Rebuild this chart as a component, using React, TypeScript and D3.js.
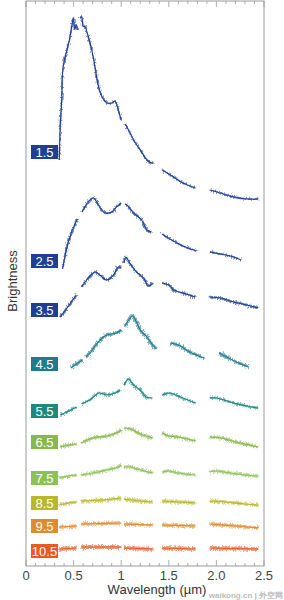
import React, { useEffect, useRef } from "react";
import * as d3 from "d3";

type Pt = [number, number];

// spectra: segments of [wavelength (µm), brightness]
const spec15: Pt[][] = [
  [[0.35, 406], [0.36, 440], [0.375, 466], [0.39, 499], [0.43, 516], [0.46, 528], [0.49, 545], [0.5, 548], [0.51, 537], [0.53, 541], [0.54, 536]],
  [[0.57, 548], [0.585, 549], [0.6, 540], [0.62, 539], [0.655, 529], [0.69, 516], [0.725, 499], [0.76, 480], [0.795, 470], [0.85, 463], [0.9, 463], [0.935, 465], [0.97, 456], [1.0, 446]],
  [[1.04, 442], [1.06, 439], [1.13, 426], [1.2, 416], [1.27, 406], [1.32, 403], [1.34, 403]],
  [[1.43, 396], [1.55, 389], [1.65, 383], [1.78, 378]],
  [[1.93, 376], [2.04, 373], [2.18, 369], [2.32, 367], [2.44, 367]],
];
const spec25: Pt[][] = [
  [[0.385, 297], [0.43, 319], [0.48, 334], [0.54, 347]],
  [[0.59, 354], [0.655, 364], [0.71, 368], [0.76, 361], [0.83, 353], [0.9, 354], [0.95, 359], [1.0, 363]],
  [[1.04, 362], [1.06, 361], [1.13, 353], [1.215, 346], [1.27, 336], [1.32, 334]],
  [[1.43, 332], [1.53, 326], [1.65, 320], [1.79, 315]],
  [[1.93, 314], [2.04, 312], [2.18, 309], [2.26, 306]],
];
const spec35: Pt[][] = [
  [[0.36, 249], [0.43, 258], [0.53, 271]],
  [[0.585, 279], [0.655, 288], [0.725, 294], [0.775, 291], [0.85, 286], [0.92, 291], [0.97, 299], [1.0, 298]],
  [[1.03, 303], [1.05, 309], [1.09, 303], [1.16, 294], [1.235, 288], [1.285, 280], [1.33, 283]],
  [[1.43, 283], [1.5, 281], [1.55, 276], [1.65, 273], [1.78, 269]],
  [[1.93, 269], [2.04, 268], [2.18, 264], [2.32, 261], [2.44, 258]],
];
const spec45: Pt[][] = [
  [[0.47, 198], [0.53, 202], [0.59, 206]],
  [[0.63, 209], [0.68, 214], [0.75, 223], [0.8, 228], [0.85, 231], [0.95, 233], [1.0, 236]],
  [[1.04, 240], [1.08, 246], [1.12, 250], [1.16, 244], [1.2, 236], [1.27, 229], [1.33, 221], [1.37, 217]],
  [[1.52, 223], [1.6, 221], [1.72, 214], [1.87, 208]],
  [[2.03, 213], [2.11, 209], [2.21, 204], [2.34, 199]],
];
const spec55: Pt[][] = [
  [[0.36, 151], [0.45, 155], [0.53, 159]],
  [[0.585, 162], [0.67, 166], [0.77, 173], [0.85, 171], [0.935, 173], [0.99, 176]],
  [[1.03, 181], [1.075, 187], [1.13, 181], [1.2, 176], [1.26, 169], [1.32, 168]],
  [[1.43, 171], [1.51, 173], [1.62, 169], [1.78, 163]],
  [[1.93, 168], [2.0, 168], [2.18, 163], [2.32, 160], [2.44, 158]],
];
const spec65: Pt[][] = [
  [[0.36, 119], [0.45, 121], [0.53, 122]],
  [[0.58, 123], [0.7, 128], [0.85, 130], [0.97, 134], [1.0, 136]],
  [[1.03, 138], [1.1, 137], [1.2, 132], [1.33, 128]],
  [[1.43, 133], [1.5, 130], [1.6, 129], [1.78, 125]],
  [[1.93, 129], [2.05, 128], [2.2, 124], [2.35, 121], [2.44, 119]],
];
const spec75: Pt[][] = [
  [[0.35, 88], [0.45, 90], [0.53, 91]],
  [[0.58, 91], [0.7, 93], [0.85, 96], [0.97, 99], [1.0, 101]],
  [[1.03, 99], [1.1, 99], [1.2, 96], [1.33, 93]],
  [[1.43, 94], [1.5, 95], [1.6, 93], [1.78, 91]],
  [[1.93, 94], [2.0, 95], [2.15, 93], [2.3, 91], [2.44, 90]],
];
const spec85: Pt[][] = [
  [[0.35, 61], [0.45, 63], [0.53, 64]],
  [[0.58, 65], [0.8, 66], [1.0, 68]],
  [[1.03, 67], [1.2, 65], [1.33, 64]],
  [[1.43, 65], [1.6, 64], [1.78, 63]],
  [[1.93, 65], [2.1, 64], [2.3, 62], [2.44, 61]],
];
const spec95: Pt[][] = [
  [[0.35, 39], [0.53, 40]],
  [[0.58, 42], [1.0, 43]],
  [[1.03, 42], [1.33, 41]],
  [[1.43, 41], [1.78, 40]],
  [[1.93, 42], [2.2, 40], [2.44, 38]],
];
const spec105: Pt[][] = [
  [[0.35, 17], [0.53, 18]],
  [[0.58, 19], [1.0, 19]],
  [[1.03, 18], [1.33, 17]],
  [[1.43, 18], [1.78, 17]],
  [[1.93, 18], [2.44, 17]],
];

const spectra = [spec15, spec25, spec35, spec45, spec55, spec65, spec75, spec85, spec95, spec105];
const labels = ["1.5", "2.5", "3.5", "4.5", "5.5", "6.5", "7.5", "8.5", "9.5", "10.5"];
const labelY = [414, 305, 256, 202, 155, 124, 88, 63, 40, 15];
const colors = ["#1d3f94", "#1d3f94", "#1d3f94", "#1f7c8c", "#1e8a7e", "#86b94a", "#8dc157", "#b8b82a", "#e08b2e", "#e85a25"];
const bandW = [1.8, 2.0, 2.4, 3.4, 2.4, 3.0, 3.2, 3.6, 3.6, 3.8];
const xTickLabels = ["0", "0.5", "1", "1.5", "2.0", "2.5"];

const App = () => {
  const svgRef = useRef<SVGSVGElement>(null);

  useEffect(() => {
    const W = 284, H = 600;
    const left = 26, right = 264, top = 1, bottom = 566;
    const svg = d3.select(svgRef.current).attr("width", W).attr("height", H);
    svg.selectAll("*").remove();

    const x = d3.scaleLinear().domain([0, 2.5]).range([left, right]);
    const y = d3.scaleLinear().domain([0, 565]).range([bottom, top]);

    // jitter filter for the noisy spectra (user space so flat segments still render)
    const defs = svg.append("defs");
    const f = defs.append("filter").attr("id", "noise").attr("filterUnits", "userSpaceOnUse")
      .attr("x", 0).attr("y", 0).attr("width", W).attr("height", H);
    f.append("feTurbulence").attr("type", "fractalNoise").attr("baseFrequency", "1.6 0.4").attr("numOctaves", 2).attr("seed", 3).attr("result", "t");
    f.append("feDisplacementMap").attr("in", "SourceGraphic").attr("in2", "t").attr("scale", 5).attr("xChannelSelector", "R").attr("yChannelSelector", "G");

    // frame
    svg.append("rect").attr("x", left).attr("y", top).attr("width", right - left).attr("height", bottom - top)
      .attr("fill", "none").attr("stroke", "#9a9a9a").attr("stroke-width", 1);

    const minor = d3.range(0, 2.51, 0.1);
    const major = (v: number) => Math.abs(v * 2 - Math.round(v * 2)) < 1e-6;
    svg.append("g").selectAll("line.b").data(minor).enter().append("line")
      .attr("x1", (d) => x(d)).attr("x2", (d) => x(d))
      .attr("y1", bottom).attr("y2", (d) => bottom - (major(d) ? 6 : 3))
      .attr("stroke", "#9a9a9a").attr("stroke-width", 0.8);
    svg.append("g").selectAll("line.t").data(minor).enter().append("line")
      .attr("x1", (d) => x(d)).attr("x2", (d) => x(d))
      .attr("y1", top).attr("y2", (d) => top + (major(d) ? 6 : 3))
      .attr("stroke", "#9a9a9a").attr("stroke-width", 0.8);

    svg.append("g").selectAll("text").data(xTickLabels).enter().append("text")
      .attr("x", (d, i) => x(i * 0.5)).attr("y", 580).attr("text-anchor", "middle")
      .attr("font-family", "Liberation Sans, Arial, sans-serif").attr("font-size", 13).attr("fill", "#444")
      .text((d) => d);

    svg.append("text").attr("x", 157).attr("y", 594).attr("text-anchor", "middle")
      .attr("font-family", "Liberation Sans, Arial, sans-serif").attr("font-size", 13).attr("fill", "#333")
      .text("Wavelength (µm)");
    svg.append("text").attr("transform", "translate(17,281) rotate(-90)").attr("text-anchor", "middle")
      .attr("font-family", "Liberation Sans, Arial, sans-serif").attr("font-size", 13).attr("fill", "#333")
      .text("Brightness");

    const line = d3.line<Pt>().x((d) => x(d[0])).y((d) => y(d[1])).curve(d3.curveCatmullRom);

    spectra.forEach((segs, i) => {
      const g = svg.append("g");
      segs.forEach((seg) => {
        g.append("path").attr("d", line(seg)).attr("fill", "none").attr("stroke", colors[i])
          .attr("stroke-width", bandW[i]).attr("stroke-opacity", 0.6).attr("filter", "url(#noise)");
        g.append("path").attr("d", line(seg)).attr("fill", "none").attr("stroke", colors[i])
          .attr("stroke-width", 1.1);
      });
      const cy = y(labelY[i]);
      svg.append("rect").attr("x", 31).attr("y", cy - 7).attr("width", 27).attr("height", 14).attr("fill", colors[i]);
      svg.append("text").attr("x", 44.5).attr("y", cy + 5).attr("text-anchor", "middle")
        .attr("font-family", "Liberation Sans, Arial, sans-serif").attr("font-size", 13).attr("fill", "#fff")
        .text(labels[i]);
    });

    // watermark, kept clear of the tick labels
    svg.append("text").attr("x", 283).attr("y", 598).attr("text-anchor", "end")
      .attr("font-family", "Liberation Sans, Arial, sans-serif").attr("font-size", 8).attr("font-weight", "bold")
      .attr("fill", "#bbb").text("waikong.cn | 外空网");
  }, []);

  return <svg ref={svgRef} style={{ position: "absolute", left: 0, top: 0 }}></svg>;
};

export default App;
